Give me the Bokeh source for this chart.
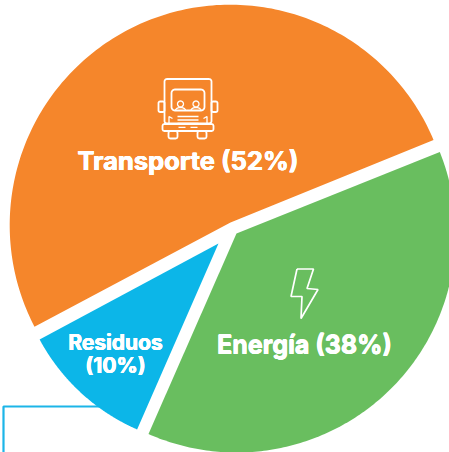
import math
from bokeh.plotting import figure
from bokeh.models import Range1d
from bokeh.core.properties import value
from bokeh.embed import file_html
from bokeh.resources import INLINE

W, H = 449, 452

# data
categories = ["Transporte", "Energía", "Residuos"]
shares = [51.3, 37.65, 10.6]   # share of the circle as drawn (slices are pulled apart)
labels = ["Transporte (52%)", "Energía (38%)", "Residuos\n(10%)"]
colors = ["#F5862B", "#69BE5F", "#0CB6E8"]

# layout (pixels, top-left origin)
centers = {"Transporte": (229.7, 224.7), "Energía": (236, 233), "Residuos": (218, 243)}
apex = {"Transporte": (230, 222), "Energía": (236, 233), "Residuos": (218, 243)}
radii = {"Transporte": 220.5, "Energía": 219, "Residuos": 203}
starts = {"Transporte": 22.75, "Energía": 246.3, "Residuos": 208.2}
FONT = "Inter"

p = figure(width=W, height=H, x_range=Range1d(0, W), y_range=Range1d(0, H),
           output_backend="svg", toolbar_location=None, min_border=0,
           outline_line_color=None, background_fill_color="white", border_fill_color="white")
p.axis.visible = False
p.grid.visible = False
p.styles = {"position": "absolute", "left": "0px", "top": "0px"}

def Y(py):
    return H - py

# frame line behind the blue slice
p.line([3, 3, 110], [Y(452), Y(406), Y(406)], line_color="#1CB5E8", line_width=2.2)

for c in categories:
    i = categories.index(c)
    span = shares[i] * 3.6
    cx, cy = centers[c]
    a = starts[c]
    r = radii[c]
    n = 180
    xs = [cx + r * math.cos(math.radians(a + span * k / n)) for k in range(n + 1)]
    ys = [Y(cy) + r * math.sin(math.radians(a + span * k / n)) for k in range(n + 1)]
    ax, ay = apex[c]
    p.patch(xs + [ax], ys + [Y(ay)], fill_color=colors[i], line_color=None)

def txt(x, y, s, size):
    for dx, dy in [(-0.35, 0), (0.35, 0), (0, 0.25), (0, -0.25)]:
        p.text(x=[x + dx], y=[Y(y) + dy], text=[s], text_color="white", text_align="center",
               text_baseline="middle", text_font=value(FONT), text_font_style="bold",
               text_font_size=size)

txt(187.5, 160, labels[0], "25.5px")
txt(304, 344, labels[1], "25px")
r1, r2 = labels[2].split("\n")
txt(115, 342, r1, "21px")
txt(115, 365, r2, "21px")

# icons
def rrect(x0, y0, x1, y1, r):
    xs, ys = [], []
    for cx, cy, a0 in [(x1 - r, y0 + r, -90), (x1 - r, y1 - r, 0), (x0 + r, y1 - r, 90), (x0 + r, y0 + r, 180)]:
        for k in range(7):
            t = math.radians(a0 + 15 * k)
            xs.append(cx + r * math.cos(t))
            ys.append(cy + r * math.sin(t))
    xs.append(xs[0]); ys.append(ys[0])
    return xs, [Y(v) for v in ys]

def icon(xs, ys, w=1.8):
    p.line(xs, ys, line_color="white", line_width=w)

for box in [(164, 78.5, 211, 123, 2.5), (171, 89, 204, 110, 3.5), (158, 101, 164, 111.5, 1.5),
            (211, 101, 217, 111.5, 1.5), (162, 123.5, 213, 130.5, 2), (168, 130.5, 177, 138, 2),
            (197, 130.5, 206, 138, 2)]:
    icon(*rrect(*box))

for hx in (180, 195.5):
    t = [math.radians(15 * k) for k in range(25)]
    icon([hx + 3 * math.cos(v) for v in t], [Y(103.5 + 3 * math.sin(v)) for v in t], 1.3)
    t = [math.radians(180 + 15 * k) for k in range(13)]
    icon([hx + 5 * math.cos(v) for v in t], [Y(110 + 3 * math.sin(v)) for v in t], 1.3)

for y0, x0, x1 in [(116, 177, 198), (119.5, 177, 198), (123, 177, 198), (126.8, 178, 185), (126.8, 190, 197)]:
    icon([x0, x1], [Y(y0), Y(y0)], 1.3)
for sx in (168.5, 206.5):
    icon([sx, sx, sx + (3.5 if sx < 180 else -3.5)], [Y(123), Y(116), Y(118)], 1.3)

bx = [296.5, 313, 306.5, 317.5, 300.5, 301.5, 290.5, 296.5]
by = [268.5, 268.5, 288, 289, 318, 296, 296, 268.5]
icon(bx, [Y(v) for v in by], 1.7)

open("out.html", "w").write(file_html(p, INLINE))
